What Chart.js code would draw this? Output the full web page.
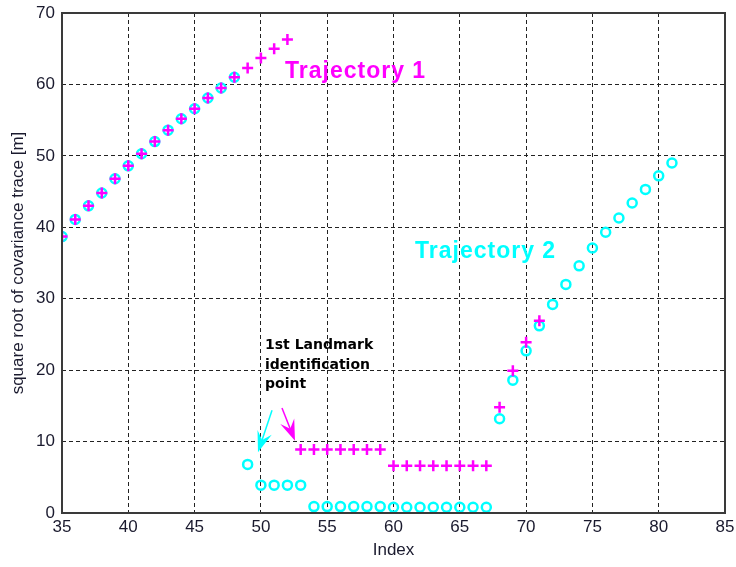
<!DOCTYPE html>
<html>
<head>
<meta charset="utf-8">
<script src="https://cdn.jsdelivr.net/npm/chart.js@4.4.0/dist/chart.umd.min.js"></script>
<style>
  html, body { margin: 0; padding: 0; background: #fff; }
  #wrap { width: 736px; height: 567px; }
</style>
</head>
<body>
<div id="wrap"><canvas id="myChart" width="736" height="567"></canvas></div>
<script>
// Datos
const traj1Index = [35, 36, 37, 38, 39, 40, 41, 42, 43, 44, 45, 46, 47, 48, 49, 50, 51, 52,
  53, 54, 55, 56, 57, 58, 59, 60, 61, 62, 63, 64, 65, 66, 67, 68, 69, 70, 71];
const traj1Values = [38.7, 41.1, 43.0, 44.8, 46.8, 48.6, 50.3, 52.0, 53.6, 55.2, 56.6, 58.1, 59.5, 61.0, 62.3, 63.7, 65.0, 66.3,
  8.9, 8.9, 8.9, 8.9, 8.9, 8.9, 8.9, 6.6, 6.6, 6.6, 6.6, 6.6, 6.6, 6.6, 6.6, 14.8, 19.9, 23.9, 26.9];

const traj2Index = [35, 36, 37, 38, 39, 40, 41, 42, 43, 44, 45, 46, 47, 48, 49, 50, 51, 52, 53,
  54, 55, 56, 57, 58, 59, 60, 61, 62, 63, 64, 65, 66, 67, 68, 69, 70, 71, 72, 73, 74, 75, 76, 77, 78, 79, 80, 81];
const traj2Values = [38.7, 41.1, 43.0, 44.8, 46.8, 48.6, 50.3, 52.0, 53.6, 55.2, 56.6, 58.1, 59.5, 61.0, 6.8, 3.9, 3.9, 3.9, 3.9,
  0.9, 0.9, 0.9, 0.9, 0.9, 0.9, 0.8, 0.8, 0.8, 0.8, 0.8, 0.8, 0.8, 0.8, 13.2, 18.6, 22.7, 26.2, 29.2, 32.0, 34.6, 37.1, 39.3, 41.3, 43.4, 45.3, 47.2, 49.0];

const xTicks = [35, 40, 45, 50, 55, 60, 65, 70, 75, 80, 85];
const yTicks = [0, 10, 20, 30, 40, 50, 60, 70];

// Textos y flechas (en unidades de datos)
const fuenteTray = 'bold 23px "Liberation Sans", Arial, sans-serif';
const fuenteNota = 'bold 14px "DejaVu Sans", Verdana, sans-serif';
const etiquetas = [
  { text: 'Trajectory 1', x: 51.82, y: 60.9, color: '#ff00ff', font: fuenteTray, spacing: '1px' },
  { text: 'Trajectory 2', x: 61.62, y: 35.7, color: '#00ffff', font: fuenteTray, spacing: '1px' },
  { text: '1st Landmark', x: 50.31, y: 22.95, color: '#000', font: fuenteNota, spacing: '0px' },
  { text: 'identification', x: 50.31, y: 20.15, color: '#000', font: fuenteNota, spacing: '0px' },
  { text: 'point', x: 50.31, y: 17.45, color: '#000', font: fuenteNota, spacing: '0px' },
];
const flechas = [
  { x1: 50.84, y1: 14.4, x2: 49.78, y2: 8.5, color: '#00ffff' },
  { x1: 51.59, y1: 14.7, x2: 52.57, y2: 10.1, color: '#ff00ff' },
];

const toPoints = (xs, ys) => xs.map((x, i) => ({ x, y: ys[i] }));

// plugin para marco, textos y flechas
const extras = {
  id: 'extras',
  afterDatasetsDraw(chart) {
    const { ctx, chartArea: a, scales: { x, y } } = chart;
    ctx.save();
    ctx.strokeStyle = '#3a3a3a';
    ctx.lineWidth = 2;
    ctx.setLineDash([]);
    ctx.strokeRect(a.left, a.top, a.right - a.left, a.bottom - a.top);

    etiquetas.forEach((e) => {
      ctx.font = e.font;
      ctx.letterSpacing = e.spacing;
      ctx.fillStyle = e.color;
      ctx.textBaseline = 'alphabetic';
      ctx.textAlign = 'left';
      ctx.fillText(e.text, x.getPixelForValue(e.x), y.getPixelForValue(e.y));
    });
    ctx.letterSpacing = '0px';

    flechas.forEach((f) => {
      const px1 = x.getPixelForValue(f.x1), py1 = y.getPixelForValue(f.y1);
      const px2 = x.getPixelForValue(f.x2), py2 = y.getPixelForValue(f.y2);
      const ang = Math.atan2(py2 - py1, px2 - px1);
      const c = Math.cos(ang), s = Math.sin(ang);
      ctx.strokeStyle = f.color;
      ctx.fillStyle = f.color;
      ctx.lineWidth = 1.5;
      ctx.beginPath();
      ctx.moveTo(px1, py1);
      ctx.lineTo(px2 - 10 * c, py2 - 10 * s);
      ctx.stroke();
      // punta de flecha con muesca
      const largo = 21, ancho = 7.5, muesca = 13;
      ctx.beginPath();
      ctx.moveTo(px2, py2);
      ctx.lineTo(px2 - largo * c - ancho * s, py2 - largo * s + ancho * c);
      ctx.lineTo(px2 - muesca * c, py2 - muesca * s);
      ctx.lineTo(px2 - largo * c + ancho * s, py2 - largo * s - ancho * c);
      ctx.closePath();
      ctx.fill();
    });
    ctx.restore();
  },
};

const fuente = { family: '"Liberation Sans", Arial, sans-serif', size: 17 };

const config = {
  type: 'scatter',
  data: {
    datasets: [
      {
        label: 'Trajectory 1',
        data: toPoints(traj1Index, traj1Values),
        pointStyle: 'cross',
        pointRadius: 5.5,
        borderColor: '#ff00ff',
        backgroundColor: '#ff00ff',
        borderWidth: 2.5,
      },
      {
        label: 'Trajectory 2',
        data: toPoints(traj2Index, traj2Values),
        pointStyle: 'circle',
        pointRadius: 4.5,
        borderColor: '#00ffff',
        backgroundColor: 'rgba(0,0,0,0)',
        borderWidth: 2.5,
      },
    ],
  },
  options: {
    responsive: false,
    animation: false,
    layout: { padding: { top: 13, right: 11, left: 0, bottom: 0 } },
    plugins: { legend: { display: false }, tooltip: { enabled: false } },
    scales: {
      x: {
        type: 'linear',
        min: 35,
        max: 85,
        afterBuildTicks: (s) => { s.ticks = xTicks.map((v) => ({ value: v })); },
        afterFit: (s) => { s.height = 54; s.paddingLeft = 0; s.paddingRight = 0; },
        ticks: { color: '#1a1a2e', font: fuente, padding: 4, maxRotation: 0 },
        grid: { color: '#222', lineWidth: 1, drawTicks: false },
        border: { display: false, dash: [4, 3] },
        title: { display: true, text: 'Index', color: '#1a1a2e', font: fuente, padding: { top: 0, bottom: 6 } },
      },
      y: {
        type: 'linear',
        min: 0,
        max: 70,
        afterBuildTicks: (s) => { s.ticks = yTicks.map((v) => ({ value: v })); },
        afterFit: (s) => { s.width = 62; s.paddingTop = 0; s.paddingBottom = 0; },
        ticks: { color: '#1a1a2e', font: fuente, padding: 7 },
        grid: { color: '#222', lineWidth: 1, drawTicks: false },
        border: { display: false, dash: [4, 3] },
        title: { display: true, text: 'square root of covariance trace [m]', color: '#1a1a2e', font: fuente, padding: { top: 8, bottom: 0 } },
      },
    },
  },
  plugins: [extras],
};

const chart = new Chart(document.getElementById('myChart'), config);
</script>
</body>
</html>
